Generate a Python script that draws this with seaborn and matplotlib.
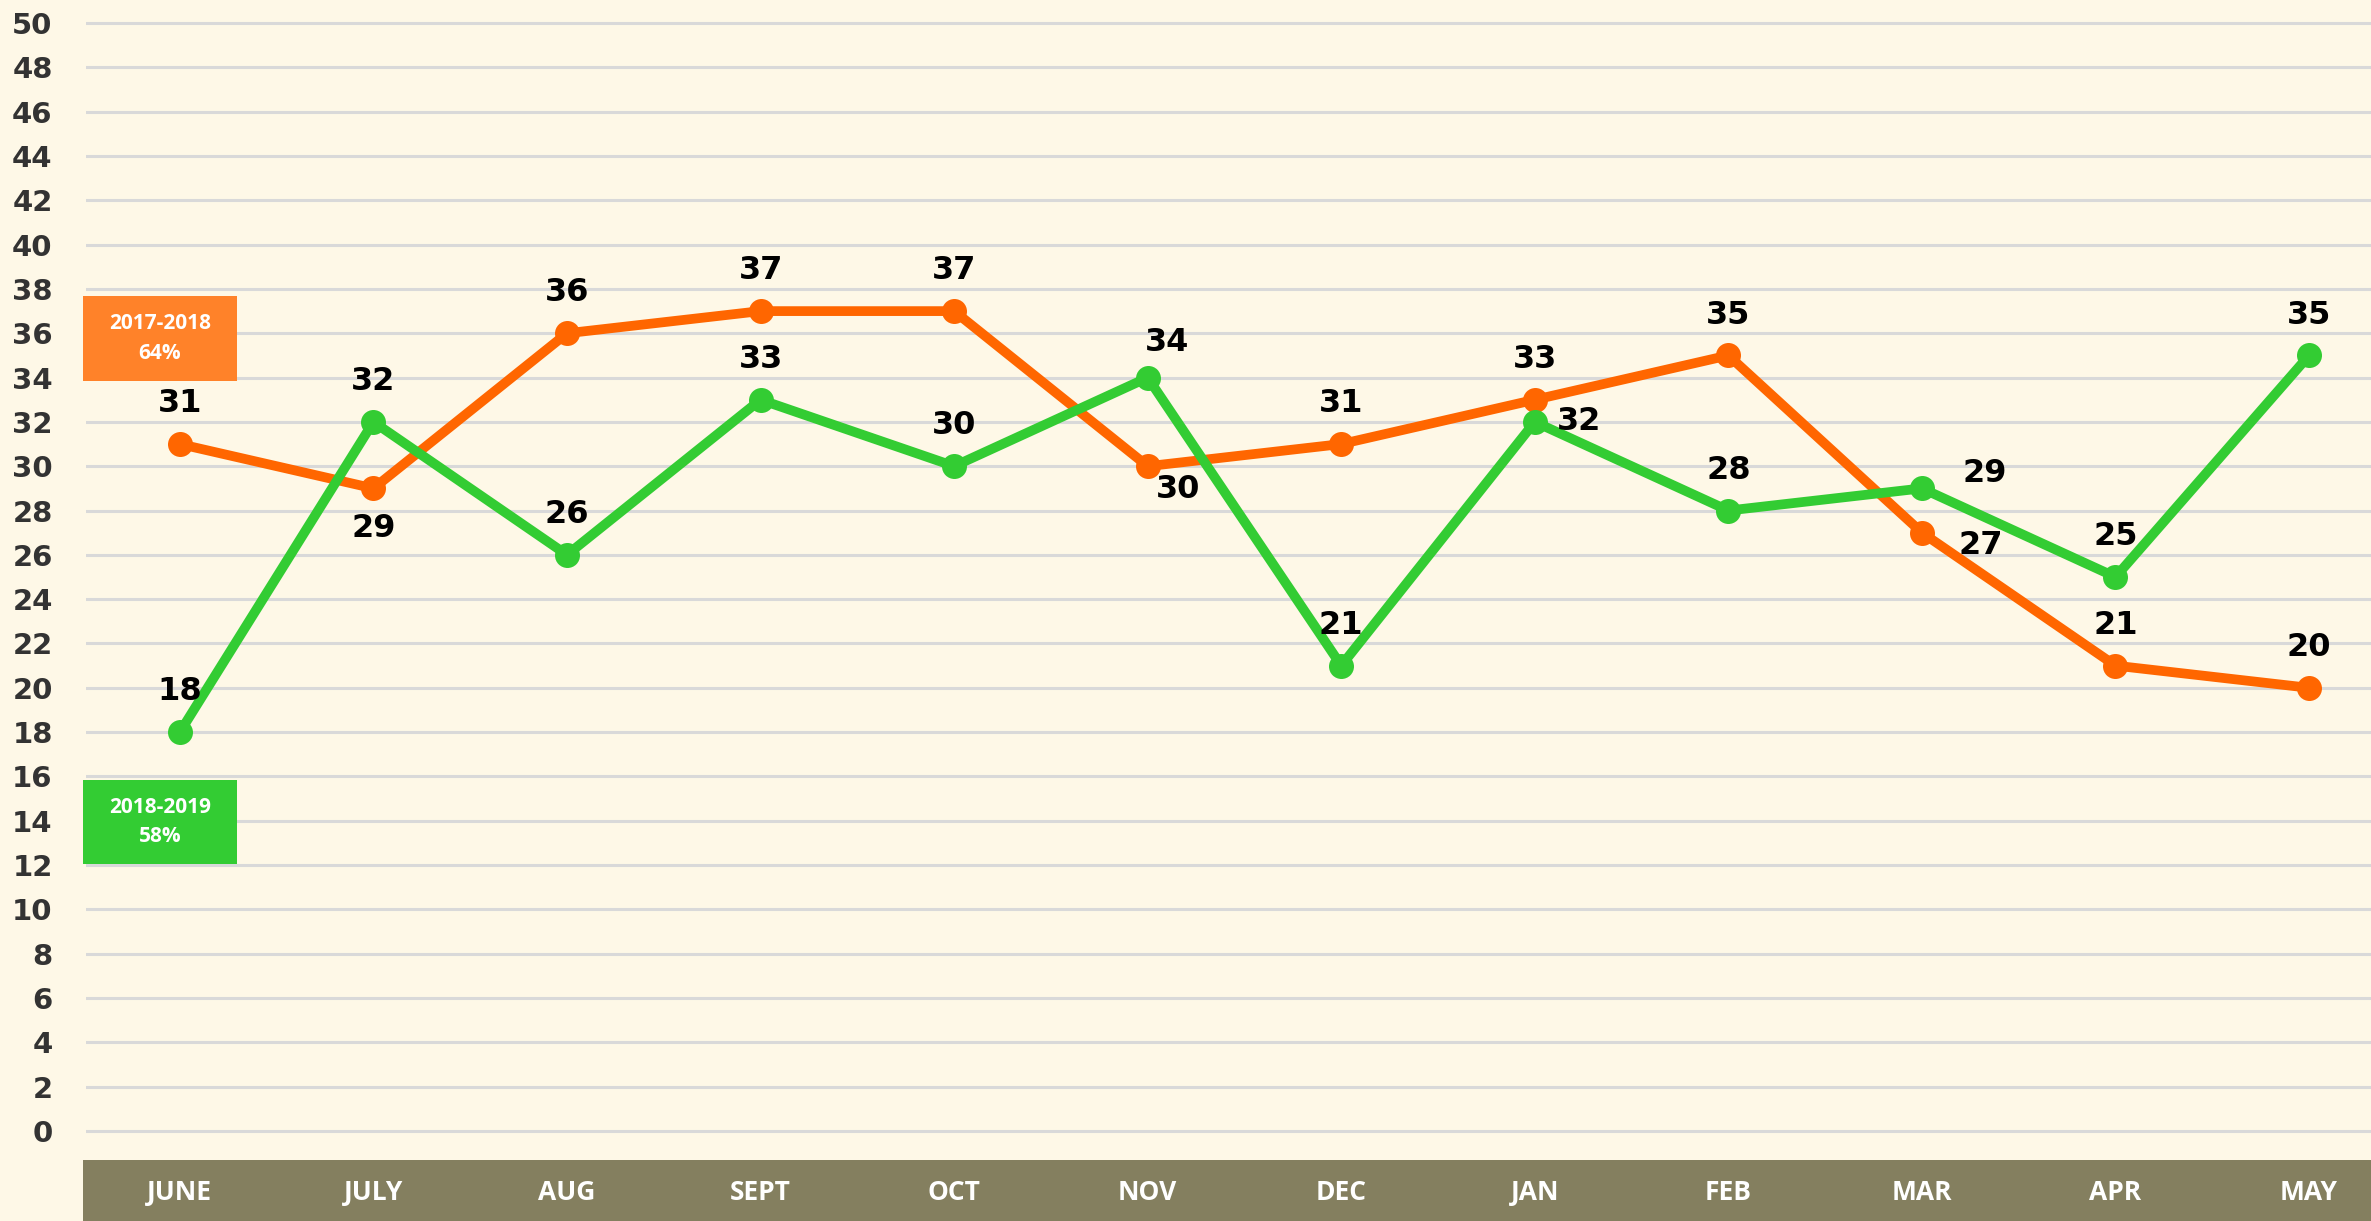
import numpy as np
import pandas as pd
import matplotlib
matplotlib.use("Agg")
import matplotlib.pyplot as plt
from matplotlib.patches import Rectangle
import seaborn as sns

# data
months = ["JUNE", "JULY", "AUG", "SEPT", "OCT", "NOV", "DEC", "JAN", "FEB", "MAR", "APR", "MAY"]
season_1718 = [31, 29, 36, 37, 37, 30, 31, 33, 35, 27, 21, 20]
season_1819 = [18, 32, 26, 33, 30, 34, 21, 32, 28, 29, 25, 35]
legend_names = ["2017-2018", "2018-2019"]
legend_pcts = ["64%", "58%"]
y_ticks = list(range(0, 51, 2))

ORANGE = "#FF6600"
GREEN = "#33CC33"
BG = "#FEF8E7"
BAND = "#847F5F"

W, H = 2371, 1221
fig = plt.figure(figsize=(W / 100, H / 100), dpi=100, facecolor=BG)

# main axes: plot area from x=86px, y from 0 to band top (1160px)
ax = fig.add_axes([86 / W, (H - 1160) / H, (W - 86) / W, 1160 / H])
ax.set_facecolor(BG)

df = pd.DataFrame({
    "x": list(range(len(months))) * 2,
    "value": season_1718 + season_1819,
    "season": [legend_names[0]] * len(months) + [legend_names[1]] * len(months),
})

sns.lineplot(data=df, x="x", y="value", hue="season", palette=[ORANGE, GREEN],
             marker="o", markersize=18, markeredgewidth=0, linewidth=7,
             sort=False, legend=False, ax=ax)

ax.set_xlim(-0.485, 11.32)
ax.set_ylim(-1.31, 51.04)
ax.set_yticks(y_ticks)
ax.set_yticklabels([str(t) for t in y_ticks])
ax.set_xticks([])
ax.set_xlabel("")
ax.set_ylabel("")
for s in ax.spines.values():
    s.set_visible(False)
ax.tick_params(axis="y", length=0, pad=24, labelsize=21, labelcolor="#333333")
for lab in ax.get_yticklabels():
    lab.set_fontweight("bold")
    lab.set_family("DejaVu Sans")
ax.grid(axis="y", color="#D9D9D9", linewidth=2.2)
ax.set_axisbelow(True)

# data labels (offsets in points)
above = (0, 29)
off_orange = {1: (0, -29), 5: (22, -17), 9: (42, -9)}
off_green = {5: (14, 25), 7: (32, 0), 9: (45, 11)}
for series, offs in [(season_1718, off_orange), (season_1819, off_green)]:
    for i, v in enumerate(series):
        dx, dy = offs.get(i, above)
        ax.annotate(str(v), (i, v), xytext=(dx, dy), textcoords="offset points",
                    ha="center", va="center", fontsize=23, fontweight="bold",
                    family="DejaVu Sans", color="black")

# month band
band_left = 83
band = fig.add_axes([band_left / W, 0, (W - band_left) / W, (H - 1160) / H])
band.set_facecolor(BAND)
band.set_xlim(-0.485 - (86 - band_left) / 193.6, 11.32)
band.set_ylim(0, 1)
band.set_xticks([])
band.set_yticks([])
for s in band.spines.values():
    s.set_visible(False)
for i, m in enumerate(months):
    band.text(i, 0.47, m, ha="center", va="center", color="white",
              fontsize=19, fontweight="bold", family="Open Sans")

# legend boxes
boxes = [(296, 381, "#FF8229"), (780, 864, GREEN)]
for (top, bot, col), name, pct in zip(boxes, legend_names, legend_pcts):
    fig.add_artist(Rectangle((83 / W, (H - bot) / H), 154 / W, (bot - top) / H,
                             transform=fig.transFigure, facecolor=col, edgecolor="none"))
    fig.text(160 / W, (H - (top + bot) / 2) / H, name + "\n" + pct, ha="center", va="center",
             color="white", fontsize=15, fontweight="bold", family="Open Sans",
             linespacing=1.55)

fig.savefig("out.png", dpi=100, facecolor=BG)
